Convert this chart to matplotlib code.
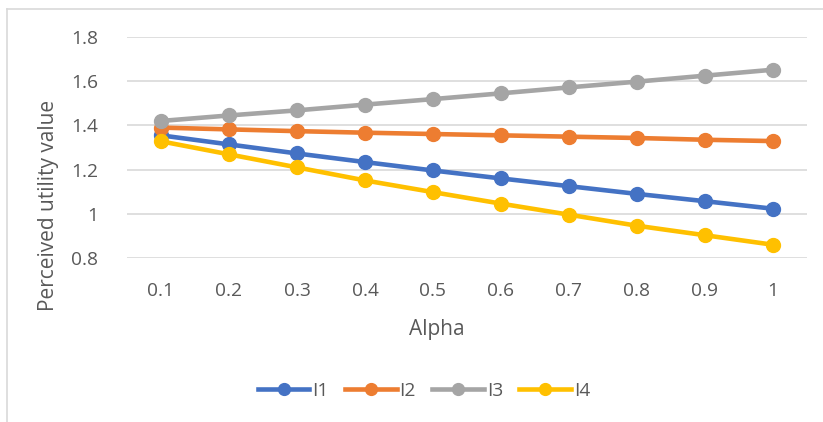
import matplotlib
matplotlib.use("Agg")
import matplotlib.pyplot as plt
from matplotlib.lines import Line2D

plt.rcParams['font.family'] = ['Open Sans', 'DejaVu Sans']

alpha = ["0.1", "0.2", "0.3", "0.4", "0.5", "0.6", "0.7", "0.8", "0.9", "1"]
i1 = [1.355, 1.314, 1.273, 1.234, 1.196, 1.160, 1.125, 1.090, 1.057, 1.023]
i2 = [1.390, 1.382, 1.374, 1.367, 1.361, 1.355, 1.349, 1.343, 1.335, 1.329]
i3 = [1.420, 1.445, 1.468, 1.494, 1.519, 1.545, 1.572, 1.598, 1.625, 1.652]
i4 = [1.328, 1.269, 1.210, 1.151, 1.098, 1.046, 0.996, 0.946, 0.903, 0.860]
series_names = ["I1", "I2", "I3", "I4"]
y_ticks = [0.8, 1.0, 1.2, 1.4, 1.6, 1.8]
y_tick_labels = ["0.8", "1", "1.2", "1.4", "1.6", "1.8"]

colors = ["#4472C4", "#ED7D31", "#A5A5A5", "#FFC000"]
text_color = "#595959"

W, H = 823, 422
fig = plt.figure(figsize=(W / 100, H / 100), dpi=100)
fig.patch.set_facecolor("white")

# plot area in pixel coordinates
left, right, top, bottom = 127, 807, 37, 258
ax = fig.add_axes([left / W, 1 - bottom / H, (right - left) / W, (bottom - top) / H])

x = list(range(len(alpha)))
for vals, c, name in zip([i1, i2, i3, i4], colors, series_names):
    ax.plot(x, vals, color=c, lw=3.3, marker="o", ms=10, mec=c, mfc=c,
            label=name, solid_capstyle="round", zorder=3, clip_on=False)

ax.set_xlim(-0.5, len(alpha) - 0.5)
ax.set_ylim(0.8, 1.8)
ax.set_yticks(y_ticks)
ax.set_yticklabels(y_tick_labels)
ax.set_xticks(x)
ax.set_xticklabels(alpha)
ax.tick_params(length=0, labelsize=13.8, colors=text_color)
ax.tick_params(axis="x", pad=17)
ax.tick_params(axis="y", pad=21)
ax.grid(axis="y", color="#D9D9D9", lw=1.2, zorder=0)
for s in ax.spines.values():
    s.set_visible(False)

# axis titles
fig.text(49 / W, 1 - 205 / H, "Perceived utility value", rotation=90,
         ha="center", va="center", fontsize=15, color=text_color)
fig.text(437 / W, 1 - 329 / H, "Alpha", ha="center", va="center",
         fontsize=15, color=text_color)

# legend
handles = [Line2D([0], [0], color=c, lw=3.3, marker="o", ms=8.5, mfc=c, mec=c)
           for c in colors]
fig.legend(handles, series_names, loc="center", bbox_to_anchor=(424 / W, 1 - 391 / H),
           ncol=4, frameon=False, fontsize=13.8, labelcolor=text_color,
           handlelength=2.7, handletextpad=0.15, columnspacing=0.85,
           borderaxespad=0)

# chart frame (left and top edges)
fig.add_artist(Line2D([7.5 / W, 7.5 / W], [0, 1 - 9 / H], color="#D9D9D9", lw=1.2))
fig.add_artist(Line2D([7.5 / W, 1], [1 - 9 / H, 1 - 9 / H], color="#D9D9D9", lw=1.2))

fig.savefig("out.png", dpi=100, facecolor="white")
